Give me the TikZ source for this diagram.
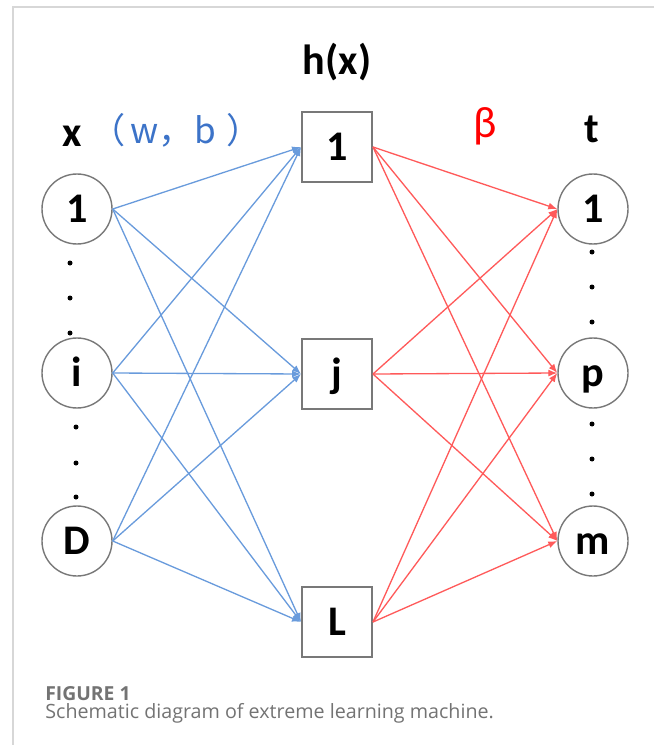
\documentclass[tikz,border=0pt]{standalone}
\usepackage{fontspec}
\setmainfont{Carlito}
\newfontfamily\cjkfont{Noto Sans CJK SC}
\newfontfamily\capfont{Open Sans}
\usetikzlibrary{arrows.meta, positioning}

\definecolor{wblue}{RGB}{105,155,220}
\definecolor{wtext}{RGB}{60,115,200}
\definecolor{bred}{RGB}{255,90,90}
\definecolor{edgegray}{RGB}{120,120,120}
\definecolor{framegray}{RGB}{215,215,215}
\definecolor{capgray}{RGB}{115,115,115}

\begin{document}
\begin{tikzpicture}[
    neuron/.style={circle, draw=edgegray, line width=0.8pt, minimum size=1.4cm, inner sep=0pt,
                   font=\fontsize{24}{28}\selectfont\bfseries, text height=0.55cm, text depth=0cm},
    hidbox/.style={rectangle, draw=edgegray, line width=1.1pt, minimum size=1.4cm, inner sep=0pt,
                   font=\fontsize{24}{28}\selectfont\bfseries, text height=0.55cm, text depth=0cm},
    warrow/.style={-{Latex[length=1.8mm,width=1.4mm]}, draw=wblue, line width=0.75pt},
    barrow/.style={-{Latex[length=1.8mm,width=1.4mm]}, draw=bred, line width=0.75pt},
    title/.style={font=\fontsize{24}{28}\selectfont\bfseries, anchor=base},
    vdot/.style={circle, fill=black, inner sep=0pt, minimum size=1.0mm}
  ]

  \useasboundingbox (0,0) rectangle (13.08,-14.9);

  % marco
  \draw[framegray, line width=0.6pt] (13.08,-0.14) -- (0.26,-0.14) -- (0.26,-14.9);

  % capa de entrada
  \node[neuron] (in1) at (1.54,-4.18) {1};
  \node[neuron] (ini) at (1.54,-7.46) {i};
  \node[neuron] (inD) at (1.54,-10.82) {D};

  % capa oculta
  \node[hidbox] (hid1) at (6.74,-2.94) {1};
  \node[hidbox] (hidj) at (6.74,-7.48) {j};
  \node[hidbox] (hidL) at (6.74,-12.44) {L};

  % capa de salida
  \node[neuron] (out1) at (11.86,-4.18) {1};
  \node[neuron] (outp) at (11.86,-7.46) {p};
  \node[neuron] (outm) at (11.86,-10.82) {m};

  % puntos suspensivos
  \foreach \y in {-5.26,-5.96,-6.66} \node[vdot] at (1.40,\y) {};
  \foreach \y in {-8.54,-9.26,-9.94} \node[vdot] at (1.52,\y) {};
  \foreach \y in {-5.04,-5.74,-6.44,-8.48,-9.18,-9.88} \node[vdot] at (11.84,\y) {};

  % pesos de entrada
  \foreach \a in {in1,ini,inD}
    \foreach \b in {hid1,hidj,hidL}
      \draw[warrow] (\a.east) -- (\b.west);

  % pesos de salida
  \foreach \a in {hid1,hidj,hidL}
    \foreach \b in {out1,outp,outm}
      \draw[barrow] (\a.east) -- (\b.west);

  % etiquetas
  \node[title] (hx) at (6.74,-1.5) {h(x)};
  \node[title] (xl) at (1.44,-2.94) {x};
  \node[title] (tl) at (11.84,-2.86) {t};
  \node[anchor=base, text=wtext, font=\cjkfont\fontsize{20}{24}\selectfont] (wb) at (3.52,-2.88) {（\hspace{0.15em}w，b\hspace{0.3em}）};
  \node[anchor=base, text=red, font=\fontsize{25}{30}\selectfont] (beta) at (9.7,-2.76) {β};

  % pie de figura
  \node[anchor=base west, inner sep=0pt, text=capgray, font=\capfont\fontsize{11}{13}\selectfont\bfseries] (fig) at (0.9,-14.0) {FIGURE 1};
  \node[anchor=base west, inner sep=0pt, text=capgray, font=\capfont\fontsize{11.2}{13}\selectfont] (cap) at (0.9,-14.36) {Schematic diagram of extreme learning machine.};
\end{tikzpicture}
\end{document}
